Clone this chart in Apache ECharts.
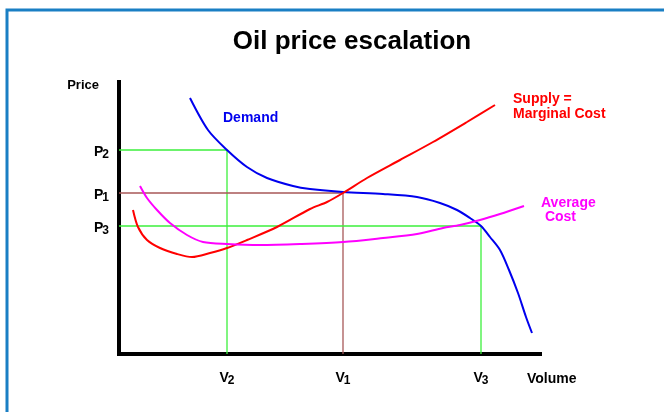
<!DOCTYPE html>
<html>
<head>
<meta charset="utf-8">
<script src="https://cdn.jsdelivr.net/npm/echarts@6/dist/echarts.min.js"></script>
<style>
  html, body { margin: 0; padding: 0; background: #fff; }
  #main { width: 664px; height: 412px; }
</style>
</head>
<body>
<div id="main"></div>
<script>
// 数据 (任意单位: 横轴 Volume, 纵轴 Price)
const levelNames = ['2', '1', '3'];
const volumeLevels = [108, 224, 362];   // V2, V1, V3
const priceLevels = [204, 161, 128];    // P2, P1, P3

const demandX = [71, 89, 108, 128, 148, 174, 191, 224, 264, 298, 321, 338, 351, 362, 371, 381, 390, 399, 407, 413];
const demandY = [256, 224, 204, 187, 176, 168, 165, 162, 160, 157, 151, 144, 136, 128, 117, 104, 84, 61, 37, 21];

const supplyX = [14, 19, 28, 41, 58, 73, 91, 108, 128, 158, 191, 208, 224, 248, 281, 314, 348, 376];
const supplyY = [144, 127, 114, 106, 100, 97, 101, 106, 114, 127, 145, 152, 161, 176, 194, 212, 232, 249];

const avgCostX = [21, 28, 38, 51, 68, 84, 108, 141, 181, 224, 264, 298, 324, 341, 361, 381, 405];
const avgCostY = [168, 156, 144, 131, 119, 112, 110, 109, 110, 112, 116, 120, 126, 129, 134, 140, 148];

const FONT = '"Liberation Sans", Arial, sans-serif';
const levelColors = ['#3cf03c', '#a85858', '#3cf03c'];

const zip = (xs, ys) => xs.map((x, i) => [x, ys[i]]);

// 参考线 (P -> 曲线交点 -> V)
const guideSeries = volumeLevels.map((v, i) => ({
    type: 'line',
    data: [[0, priceLevels[i]], [v, priceLevels[i]], [v, 0]],
    showSymbol: false,
    silent: true,
    animation: false,
    z: 1,
    lineStyle: { color: levelColors[i], width: 1.3 }
}));

function curve(xs, ys, color) {
    return {
        type: 'line',
        data: zip(xs, ys),
        showSymbol: false,
        smooth: 0.3,
        silent: true,
        animation: false,
        z: 3,
        lineStyle: { color: color, width: 2 }
    };
}

const myChart = echarts.init(document.getElementById('main'), null, { renderer: 'canvas' });

const subRich = (padTop) => ({
    a: { fontFamily: FONT, fontSize: 14, fontWeight: 'bold', color: '#000', lineHeight: 18, padding: [padTop, 0, 0, 0] },
    s: { fontFamily: FONT, fontSize: 12, fontWeight: 'bold', color: '#000', lineHeight: 18, padding: [padTop + 5, 0, 0, -1] }
});

const option = {
    backgroundColor: '#fff',
    animation: false,
    title: {
        text: 'Oil price escalation',
        left: 347,
        top: 24,
        textAlign: 'center',
        textStyle: { fontFamily: FONT, fontSize: 26, fontWeight: 'bold', color: '#000' }
    },
    grid: { left: 119, right: 124, top: 82, bottom: 58 },
    xAxis: {
        type: 'value',
        min: 0,
        max: 421,
        splitLine: { show: false },
        axisTick: { show: false },
        axisLine: { lineStyle: { color: '#000', width: 4, cap: 'square' } },
        axisLabel: {
            customValues: volumeLevels,
            margin: 15,
            formatter: v => '{a|V}{s|' + levelNames[volumeLevels.indexOf(v)] + '}',
            rich: subRich(0)
        },
        name: 'Volume',
        nameLocation: 'end',
        nameGap: -13,
        nameTextStyle: {
            fontFamily: FONT, fontSize: 14, fontWeight: 'bold', color: '#000',
            align: 'left', verticalAlign: 'top', padding: [18, 0, 0, 0]
        }
    },
    yAxis: {
        type: 'value',
        min: 0,
        max: 272,
        splitLine: { show: false },
        axisTick: { show: false },
        axisLine: { lineStyle: { color: '#000', width: 4, cap: 'square' } },
        axisLabel: {
            customValues: priceLevels,
            margin: 10,
            formatter: v => '{a|P}{s|' + levelNames[priceLevels.indexOf(v)] + '}',
            rich: subRich(4)
        },
        name: 'Price',
        nameLocation: 'end',
        nameGap: -3,
        nameTextStyle: {
            fontFamily: FONT, fontSize: 13, fontWeight: 'bold', color: '#000',
            align: 'right', verticalAlign: 'middle', padding: [0, 20, 0, 0]
        }
    },
    graphic: [
        {
            type: 'rect',
            shape: { x: 7, y: 10, width: 720, height: 460 },
            style: { fill: 'none', stroke: '#1a7fc4', lineWidth: 3 },
            silent: true
        },
        {
            type: 'text', left: 223, top: 111,
            style: { text: 'Demand', fill: '#0000ee', font: 'bold 14px ' + FONT }
        },
        {
            type: 'text', left: 513, top: 92,
            style: { text: 'Supply =\nMarginal Cost', fill: '#ff0000', font: 'bold 14px ' + FONT, lineHeight: 15 }
        },
        {
            type: 'text', left: 541, top: 196,
            style: { text: 'Average\n Cost', fill: '#ff00ff', font: 'bold 14px ' + FONT, lineHeight: 14 }
        }
    ],
    series: [
        ...guideSeries,
        curve(demandX, demandY, '#0000ee'),
        curve(supplyX, supplyY, '#ff0000'),
        curve(avgCostX, avgCostY, '#ff00ff')
    ]
};

myChart.setOption(option);
</script>
</body>
</html>
